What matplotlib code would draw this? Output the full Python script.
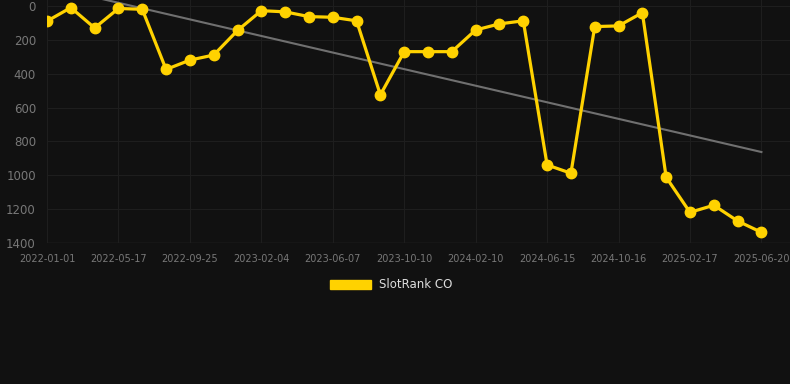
import numpy as np
import matplotlib
matplotlib.use("Agg")
import matplotlib.pyplot as plt
from matplotlib.patches import Patch

# rank per observation (lower is better, axis inverted)
rank = [90, 10, 130, 15, 20, 375, 320, 290, 145, 28, 35, 63, 67, 88, 525,
        270, 270, 270, 142, 106, 88, 939, 988, 122, 118, 40, 1012, 1219,
        1177, 1270, 1337]
# one label every third observation
date_labels = ["2022-01-01", "2022-05-17", "2022-09-25", "2023-02-04",
               "2023-06-07", "2023-10-10", "2024-02-10", "2024-06-15",
               "2024-10-16", "2025-02-17", "2025-06-20"]
y_ticks = [0, 200, 400, 600, 800, 1000, 1200, 1400]

bg = "#111111"
yellow = "#FFD200"

fig = plt.figure(figsize=(7.9, 3.84), dpi=100, facecolor=bg)
ax = fig.add_axes([47 / 790, 1 - 243 / 384, 743 / 790, 243 / 384], facecolor=bg)

x = np.arange(len(rank))
coef = np.polyfit(x, rank, 1)
ax.plot(x, np.polyval(coef, x), color="#707070", lw=1.5, zorder=2)
ax.plot(x, rank, color=yellow, lw=2.3, marker="o", ms=7.5, zorder=3)

ax.set_xlim(0, 31.2)
ax.set_ylim(1400, -35)
ax.set_xticks(x[::3])
ax.set_xticklabels(date_labels)
ax.set_yticks(y_ticks)

ax.grid(True, color="#1e1e1e", lw=0.8)
for s in ax.spines.values():
    s.set_visible(False)
ax.axhline(1400, color="#2c2c2c", lw=1, zorder=1)
ax.tick_params(axis="both", length=0, colors="#787878")
ax.tick_params(axis="x", labelsize=7, pad=8)
ax.tick_params(axis="y", labelsize=8.5, pad=8)

fig.legend(handles=[Patch(color=yellow)], labels=["SlotRank CO"],
           loc="center", bbox_to_anchor=(0.495, 1 - 285 / 384), frameon=False,
           handlelength=3.5, handleheight=0.9, handletextpad=0.6,
           fontsize=8.5, labelcolor="#dddddd")

fig.savefig("out.png", dpi=100, facecolor=bg)
